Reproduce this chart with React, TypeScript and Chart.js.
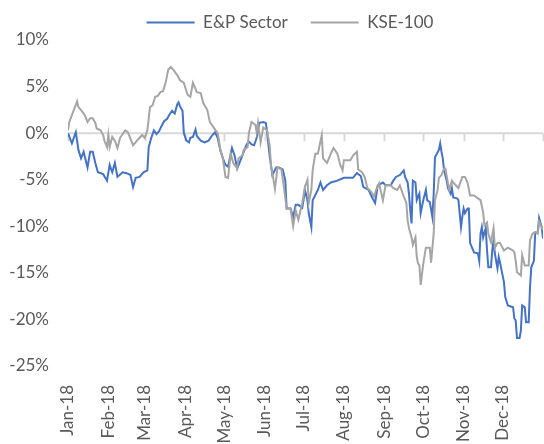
import React, { useEffect, useRef } from "react";
import { Chart, registerables } from "chart.js";

Chart.register(...registerables);

const monthLabels = ["Jan-18", "Feb-18", "Mar-18", "Apr-18", "May-18", "Jun-18", "Jul-18", "Aug-18", "Sep-18", "Oct-18", "Nov-18", "Dec-18"];
const monthStarts = [0, 31, 59, 90, 120, 151, 181, 212, 243, 273, 304, 334];
const yearEnd = 365;
const yTicksMin = -25;
const yTicksMax = 10;

const epDays = [0, 3, 6, 8, 10, 12, 15, 17, 19, 21, 23, 27, 30, 32, 34, 36, 38, 42, 45, 48, 50, 52, 55, 58, 61, 62, 64, 66, 68, 70, 72, 74, 76, 78, 80, 82, 84, 85, 86, 88, 89, 91, 93, 94, 96, 98, 99, 102, 105, 108, 111, 113, 115, 117, 119, 121, 123, 126, 128, 130, 132, 134, 137, 139, 141, 143, 145, 147, 150, 152, 153, 155, 157, 160, 162, 165, 167, 168, 171, 173, 175, 177, 180, 181, 182, 184, 185, 187, 188, 192, 194, 196, 199, 202, 207, 212, 219, 222, 225, 227, 231, 234, 236, 238, 242, 244, 248, 250, 252, 255, 258, 259, 261, 262, 263, 264, 265, 267, 268, 270, 271, 273, 275, 276, 278, 280, 281, 282, 285, 286, 287, 288, 289, 291, 292, 294, 295, 296, 299, 300, 302, 303, 304, 305, 307, 308, 309, 312, 315, 316, 317, 318, 319, 321, 322, 323, 325, 326, 327, 328, 330, 331, 332, 335, 336, 338, 342, 343, 344, 345, 347, 348, 349, 351, 352, 354, 355, 356, 358, 359, 361, 362, 364, 365];
const epValues = [0.0, -1.1, 0.1, -1.8, -2.7, -2.0, -3.7, -2.0, -2.0, -3.2, -4.2, -4.4, -5.1, -3.4, -4.2, -3.2, -4.7, -4.2, -4.3, -4.5, -5.8, -4.8, -4.7, -4.2, -4.0, -1.5, -0.5, 0.3, -0.1, 0.2, 0.8, 1.3, 1.5, 2.0, 2.4, 2.1, 3.1, 3.3, 2.9, 2.4, 0.0, -0.8, -1.0, -0.5, -0.4, 0.4, -0.3, -0.8, -1.0, -0.8, -0.2, 0.1, -0.5, -1.8, -2.7, -3.4, -3.6, -1.6, -2.4, -3.8, -3.1, -2.4, -1.3, -0.9, -1.2, -1.3, -0.5, 1.1, 1.2, 1.1, 0.1, -2.5, -4.5, -3.7, -3.7, -3.9, -5.1, -8.1, -8.1, -9.0, -7.7, -7.7, -8.0, -7.2, -6.1, -7.2, -8.6, -10.1, -7.2, -6.1, -5.3, -6.1, -5.6, -5.3, -5.1, -4.8, -4.8, -4.3, -4.6, -5.8, -6.1, -7.0, -7.5, -5.6, -5.3, -5.6, -5.6, -5.1, -4.7, -4.5, -4.0, -4.7, -5.3, -6.5, -8.3, -9.7, -5.1, -5.3, -7.2, -6.5, -8.6, -7.2, -6.1, -7.2, -7.4, -9.0, -6.5, -2.6, -1.8, -1.1, -2.0, -2.7, -4.0, -5.1, -5.9, -6.5, -5.9, -6.9, -7.0, -7.2, -10.1, -9.0, -8.1, -8.6, -8.1, -8.1, -11.8, -12.8, -12.9, -13.7, -10.8, -10.1, -11.2, -10.2, -12.6, -14.4, -14.4, -12.6, -11.5, -12.9, -14.5, -13.3, -13.9, -16.0, -17.6, -18.5, -18.7, -19.9, -20.1, -22.0, -22.0, -21.2, -18.5, -18.7, -20.3, -20.3, -16.6, -14.4, -13.7, -10.8, -10.6, -9.1, -10.1, -11.3];

const kseDays = [0, 1, 4, 7, 8, 11, 13, 15, 17, 19, 21, 22, 25, 27, 28, 30, 31, 32, 34, 36, 38, 40, 44, 46, 50, 53, 55, 57, 59, 61, 63, 65, 67, 69, 71, 73, 75, 77, 79, 81, 84, 86, 89, 92, 94, 96, 99, 102, 104, 107, 109, 112, 115, 116, 117, 119, 121, 123, 125, 127, 130, 131, 134, 135, 138, 139, 141, 144, 145, 146, 148, 150, 153, 155, 156, 158, 159, 161, 164, 166, 168, 171, 173, 175, 177, 180, 182, 184, 185, 187, 188, 190, 192, 195, 196, 199, 202, 204, 207, 209, 211, 212, 217, 219, 222, 223, 226, 228, 230, 233, 235, 237, 239, 242, 244, 248, 250, 253, 255, 258, 260, 261, 262, 264, 265, 267, 268, 269, 270, 271, 273, 275, 278, 279, 281, 282, 284, 285, 287, 289, 290, 292, 293, 295, 296, 298, 300, 303, 305, 307, 309, 312, 315, 317, 319, 320, 322, 323, 325, 327, 328, 330, 332, 335, 338, 342, 343, 344, 345, 348, 349, 351, 354, 355, 357, 359, 361, 362, 365];
const kseValues = [0.3, 1.2, 2.3, 3.4, 2.8, 2.3, 1.9, 1.2, 1.6, 1.6, 1.1, 0.5, 0.3, -0.2, -0.8, -1.5, -0.2, -1.5, -0.4, -0.8, -1.6, -0.5, 0.3, 0.1, -1.3, -0.8, -0.5, -0.2, -0.5, 0.3, 2.8, 3.0, 3.9, 4.0, 4.4, 4.5, 5.4, 6.8, 7.1, 6.8, 6.2, 5.7, 5.4, 4.1, 3.9, 5.4, 4.4, 4.3, 3.2, 2.5, 1.2, 0.6, 0.0, -0.8, -1.8, -2.7, -4.7, -4.8, -2.2, -3.2, -3.8, -2.7, -2.4, -1.8, -1.5, 0.0, 1.2, 0.9, 0.1, 1.1, -1.0, 0.6, 0.3, -1.4, -3.5, -5.1, -6.0, -3.7, -3.9, -5.9, -8.1, -8.1, -10.0, -8.3, -9.3, -7.5, -5.8, -5.0, -7.5, -6.1, -4.0, -2.2, -2.2, -0.2, -2.7, -3.2, -2.2, -1.6, -2.2, -3.3, -4.0, -2.9, -2.9, -2.4, -2.0, -3.9, -4.2, -4.7, -5.9, -6.3, -6.8, -6.0, -5.4, -7.2, -5.6, -5.6, -5.9, -6.1, -5.6, -6.8, -7.5, -9.4, -10.2, -11.2, -12.0, -11.2, -13.3, -14.0, -14.2, -16.3, -14.0, -12.3, -12.3, -13.9, -10.8, -7.2, -6.1, -4.8, -4.5, -3.8, -3.8, -5.4, -6.1, -5.1, -5.3, -5.6, -5.9, -4.7, -4.7, -5.3, -6.7, -6.7, -7.0, -7.2, -8.5, -9.9, -9.6, -10.8, -11.7, -10.2, -12.3, -11.8, -11.8, -12.6, -12.3, -12.6, -12.8, -13.7, -14.9, -15.3, -13.1, -14.2, -14.2, -11.5, -10.8, -10.6, -10.8, -9.5, -10.4];

const FONT = "Lato, 'Open Sans', sans-serif";
const TEXT = "#595959";

const zeroAxisPlugin = {
  id: "zeroAxis",
  beforeDatasetsDraw(chart: any) {
    const { ctx, chartArea, scales } = chart;
    const y0 = scales.y.getPixelForValue(0);
    ctx.save();
    ctx.strokeStyle = "#d9d9d9";
    ctx.lineWidth = 2;
    ctx.beginPath();
    ctx.moveTo(chartArea.left, y0);
    ctx.lineTo(chartArea.right, y0);
    [...monthStarts, yearEnd].forEach((d) => {
      const x = Math.round(scales.x.getPixelForValue(d)) + 0.5;
      ctx.moveTo(x, y0);
      ctx.lineTo(x, y0 + 8);
    });
    ctx.stroke();
    ctx.restore();
  },
};

export default function App() {
  const ref = useRef<HTMLCanvasElement | null>(null);
  useEffect(() => {
    if (!ref.current) return;
    const chart = new Chart(ref.current, {
      type: "line",
      data: {
        datasets: [
          {
            label: "E&P Sector",
            data: epDays.map((d, i) => ({ x: d, y: epValues[i] })),
            borderColor: "#4472C4",
            backgroundColor: "#4472C4",
            borderWidth: 2,
            pointRadius: 0,
            tension: 0,
            order: 1,
          },
          {
            label: "KSE-100",
            data: kseDays.map((d, i) => ({ x: d, y: kseValues[i] })),
            borderColor: "#A5A5A5",
            backgroundColor: "#A5A5A5",
            borderWidth: 2,
            pointRadius: 0,
            tension: 0,
            order: 0,
          },
        ],
      },
      options: {
        animation: false,
        responsive: false,
        maintainAspectRatio: false,
        layout: { padding: { top: -9, left: 0, right: -36, bottom: 0 } },
        plugins: {
          tooltip: { enabled: false },
          legend: {
            position: "top",
            maxHeight: 49,
            labels: {
              usePointStyle: true,
              pointStyle: "line",
              pointStyleWidth: 48,
              padding: 23,
              color: TEXT,
              font: { family: FONT, size: 17 },
              sort: (a: any, b: any) => a.datasetIndex - b.datasetIndex,
            },
          },
        },
        scales: {
          x: {
            type: "linear",
            min: 0,
            max: yearEnd,
            grid: { display: false, drawTicks: false },
            border: { display: false },
            afterBuildTicks: (scale: any) => {
              scale.ticks = monthStarts.map((v) => ({ value: v }));
            },
            afterFit: (scale: any) => {
              scale.height = 78;
            },
            ticks: {
              autoSkip: false,
              minRotation: 90,
              maxRotation: 90,
              padding: 19,
              color: TEXT,
              font: { family: FONT, size: 17 },
              callback: (v: any) => {
                const i = monthStarts.indexOf(Number(v));
                return i >= 0 ? monthLabels[i] : "";
              },
            },
          },
          y: {
            min: yTicksMin,
            max: yTicksMax,
            grid: { display: false, drawTicks: false },
            border: { display: false },
            afterFit: (scale: any) => {
              scale.width = 68;
            },
            ticks: {
              stepSize: 5,
              padding: 19,
              color: TEXT,
              font: { family: FONT, size: 17 },
              callback: (v: any) => v + "%",
            },
          },
          yRightSpace: {
            position: "right",
            min: yTicksMin,
            max: yTicksMax,
            grid: { display: false, drawTicks: false },
            border: { display: false },
            ticks: { display: false },
            afterFit: (scale: any) => {
              scale.width = 37;
            },
          },
        },
      },
      plugins: [zeroAxisPlugin],
    } as any);
    return () => chart.destroy();
  }, []);
  return (
    <div style={{ position: "absolute", left: 0, top: 0, width: 544, height: 444 }}>
      <canvas ref={ref} width={544} height={444} style={{ width: 544, height: 444 }} />
    </div>
  );
}
